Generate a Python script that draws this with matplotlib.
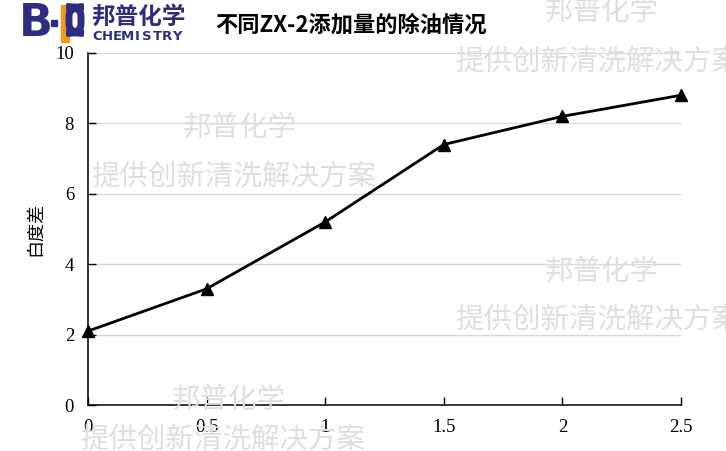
"""不同 ZX-2 添加量的除油情况：白度差折线图。"""
import matplotlib
matplotlib.use("Agg")
import matplotlib.pyplot as plt
from matplotlib.patches import Rectangle, FancyBboxPatch

CJK = ["Noto Sans CJK SC", "DejaVu Sans"]

# 数据
dosage = [0, 0.5, 1, 1.5, 2, 2.5]
whiteness_diff = [2.1, 3.3, 5.2, 7.4, 8.2, 8.8]
x_ticks = [0, 0.5, 1, 1.5, 2, 2.5]
x_tick_labels = ["0", "0.5", "1", "1.5", "2", "2.5"]
y_ticks = [0, 2, 4, 6, 8, 10]

W, H = 726, 451
fig = plt.figure(figsize=(W / 100, H / 100), dpi=100)
ax = fig.add_axes([88 / W, 1 - 405 / H, (681 - 88) / W, (405 - 53) / H])

ax.plot(dosage, whiteness_diff, color="black", lw=2, marker="^", ms=8,
        clip_on=False, zorder=5)
ax.set_xlim(0, 2.5)
ax.set_ylim(0, 10)
ax.set_xticks(x_ticks)
ax.set_xticklabels(x_tick_labels)
ax.set_yticks(y_ticks)
ax.yaxis.grid(True, color="#d9d9d9", lw=1)
ax.set_axisbelow(True)
for s in ("top", "right"):
    ax.spines[s].set_visible(False)
for s in ("left", "bottom"):
    ax.spines[s].set_linewidth(1.1)
ax.tick_params(direction="in", length=6, width=1, pad=10, labelsize=13.5)
for lab in ax.get_xticklabels() + ax.get_yticklabels():
    lab.set_family("Liberation Serif")
ax.set_ylabel("白度差", family=CJK, fontsize=13, labelpad=8)

# 标题
fig.text(215 / W, 1 - 25 / H, "不同ZX-2添加量的除油情况", family=CJK,
         fontsize=16, fontweight="bold", va="center", ha="left")

# 标志
navy = "#2e2d82"
orange = "#f39a1e"
fig.text(19 / W, 1 - 24 / H, "B", color=navy, fontsize=32, fontweight="heavy",
         family="DejaVu Sans", va="center", ha="left")
fig.patches.append(Rectangle((51 / W, 1 - 26 / H), 6 / W, 6 / H,
                             transform=fig.transFigure, color=navy))
fig.patches.append(Rectangle((61 / W, 1 - 42 / H), 8 / W, 37 / H,
                             transform=fig.transFigure, color=orange))
fig.patches.append(FancyBboxPatch((69 / W, 1 - 33 / H), 12 / W, 26 / H,
                                  boxstyle="round,pad=0,rounding_size=0.02",
                                  transform=fig.transFigure, facecolor="none",
                                  edgecolor=navy, lw=5))
fig.text(91 / W, 1 - 17 / H, "邦普化学", color=navy, family=CJK, fontsize=17,
         fontweight="bold", va="center", ha="left")
for i, ch in enumerate("CHEMISTRY"):
    fig.text((97 + i * 10) / W, 1 - 37 / H, ch, color=navy, fontsize=9.5,
             fontweight="bold", family="DejaVu Sans", va="center", ha="center")

# 水印
wm_color = "#dedede"
watermarks = [
    (545, 12, "邦普化学"), (455, 62, "提供创新清洗解决方案"),
    (183, 128, "邦普化学"), (91, 177, "提供创新清洗解决方案"),
    (545, 272, "邦普化学"), (455, 320, "提供创新清洗解决方案"),
    (172, 400, "邦普化学"), (80, 440, "提供创新清洗解决方案"),
]
for x, y, t in watermarks:
    fig.text(x / W, 1 - y / H, t, color=wm_color, family=CJK, fontsize=20.5,
             va="center", ha="left", zorder=0)

fig.savefig("out.png", dpi=100)
